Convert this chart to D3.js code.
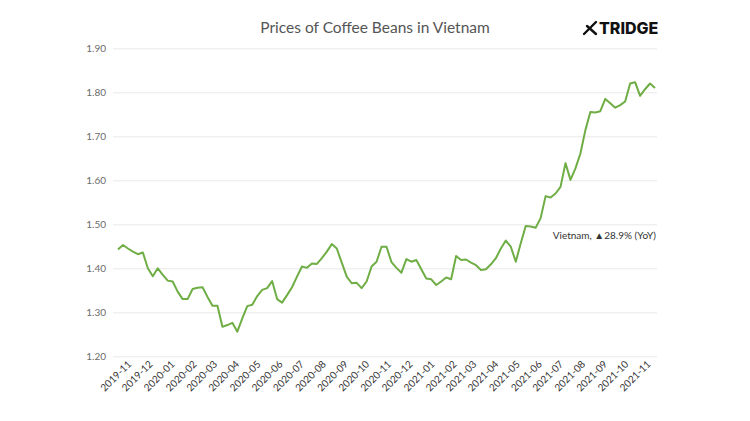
<!DOCTYPE html>
<html>
<head>
<meta charset="utf-8">
<script src="https://cdn.jsdelivr.net/npm/d3@7"></script>
<style>
  html, body { margin: 0; padding: 0; background: #ffffff; }
  svg { display: block; }
</style>
</head>
<body>
<svg id="chart" width="750" height="421"></svg>
<script>
// ---- data ----
const title = "Prices of Coffee Beans in Vietnam";
const seriesName = "Vietnam";
const annotation = "Vietnam, \u25B228.9% (YoY)";
const startDate = "2019-10-20";   // first weekly observation
const prices = [
  1.443, 1.453, 1.445, 1.438, 1.432, 1.436, 1.400, 1.382, 1.400, 1.385,
  1.372, 1.370, 1.347, 1.330, 1.330, 1.353, 1.356, 1.357, 1.335, 1.315,
  1.315, 1.267, 1.271, 1.276, 1.256, 1.286, 1.314, 1.317, 1.337, 1.351,
  1.355, 1.371, 1.330, 1.322, 1.339, 1.357, 1.381, 1.404, 1.401, 1.411,
  1.410, 1.423, 1.438, 1.455, 1.445, 1.413, 1.381, 1.366, 1.367, 1.355,
  1.370, 1.404, 1.415, 1.449, 1.449, 1.414, 1.401, 1.390, 1.421, 1.415,
  1.419, 1.398, 1.377, 1.375, 1.362, 1.370, 1.379, 1.375, 1.428, 1.419,
  1.420, 1.413, 1.407, 1.396, 1.398, 1.409, 1.423, 1.445, 1.463, 1.449,
  1.415, 1.457, 1.496, 1.495, 1.492, 1.514, 1.564, 1.561, 1.570, 1.585,
  1.639, 1.601, 1.627, 1.661, 1.714, 1.755, 1.754, 1.757, 1.785, 1.775,
  1.765, 1.771, 1.779, 1.820, 1.823, 1.792, 1.807, 1.820, 1.810
];
const yTicks = [1.20, 1.30, 1.40, 1.50, 1.60, 1.70, 1.80, 1.90];
const xTickLabels = [
  "2019-11","2019-12","2020-01","2020-02","2020-03","2020-04","2020-05",
  "2020-06","2020-07","2020-08","2020-09","2020-10","2020-11","2020-12",
  "2021-01","2021-02","2021-03","2021-04","2021-05","2021-06","2021-07",
  "2021-08","2021-09","2021-10","2021-11"
];

// ---- build ----
const parseDay = d3.utcParse("%Y-%m-%d");
const parseMonth = d3.utcParse("%Y-%m");
const t0 = parseDay(startDate);
const data = prices.map((v, i) => ({ date: d3.utcDay.offset(t0, i * 7), value: v }));

const svg = d3.select("#chart");
const plotL = 118, plotR = 655, plotT = 48.3, plotB = 356.3;

const x = d3.scaleUtc()
  .domain(d3.extent(data, d => d.date))
  .range([plotL, plotR]);
const y = d3.scaleLinear().domain([1.2, 1.9]).range([plotB, plotT]);

// gridlines + y axis
const yAxis = d3.axisLeft(y).tickValues(yTicks).tickFormat(d3.format(".2f")).tickSize(0).tickPadding(7);
const gy = svg.append("g").attr("transform", `translate(${plotL - 5},0)`).call(yAxis);
gy.select(".domain").remove();
gy.selectAll("text")
  .attr("fill", "#6b6b6b")
  .style("font-family", "Lato, 'Open Sans', sans-serif")
  .style("font-size", "10px");
gy.selectAll(".tick").append("line")
  .attr("x1", 0).attr("x2", plotR + 2 - (plotL - 5))
  .attr("stroke", "#e8e8e8").attr("stroke-width", 1);

// x axis labels
const gx = svg.append("g");
xTickLabels.forEach(lbl => {
  const tx = x(parseMonth(lbl));
  gx.append("text")
    .attr("transform", `translate(${tx + 3},${plotB + 6}) rotate(-45)`)
    .attr("text-anchor", "end")
    .attr("dy", "0.35em")
    .attr("fill", "#333")
    .style("font-family", "Lato, 'Open Sans', sans-serif")
    .style("font-size", "10px")
    .text(lbl);
});

// line
const line = d3.line().x(d => x(d.date)).y(d => y(d.value));
svg.append("path")
  .datum(data)
  .attr("d", line)
  .attr("fill", "none")
  .attr("stroke", "#6fad45")
  .attr("stroke-width", 2)
  .attr("stroke-linejoin", "round");

// annotation
const last = data[data.length - 1];
svg.append("text")
  .attr("x", x(last.date) + 1)
  .attr("y", 239)
  .attr("text-anchor", "end")
  .attr("fill", "#333")
  .style("font-family", "Lato, 'Open Sans', sans-serif")
  .style("font-size", "10px")
  .text(annotation);

// title
svg.append("text")
  .attr("x", 375).attr("y", 33)
  .attr("text-anchor", "middle")
  .attr("fill", "#555")
  .style("font-family", "Lato, 'Open Sans', sans-serif")
  .style("font-size", "15.5px")
  .text(title);

// logo
const logo = svg.append("g");
logo.append("line").attr("x1", 584).attr("y1", 34).attr("x2", 596).attr("y2", 22)
  .attr("stroke", "#111").attr("stroke-width", 2.4).attr("stroke-linecap", "round");
logo.append("line").attr("x1", 587).attr("y1", 26).attr("x2", 596).attr("y2", 34)
  .attr("stroke", "#111").attr("stroke-width", 2.4).attr("stroke-linecap", "round");
logo.append("text")
  .attr("x", 599).attr("y", 34)
  .attr("fill", "#111")
  .style("font-family", "Inter, 'DejaVu Sans', sans-serif")
  .style("font-weight", "800")
  .style("font-size", "16px")
  .text("TRIDGE");
</script>
</body>
</html>
